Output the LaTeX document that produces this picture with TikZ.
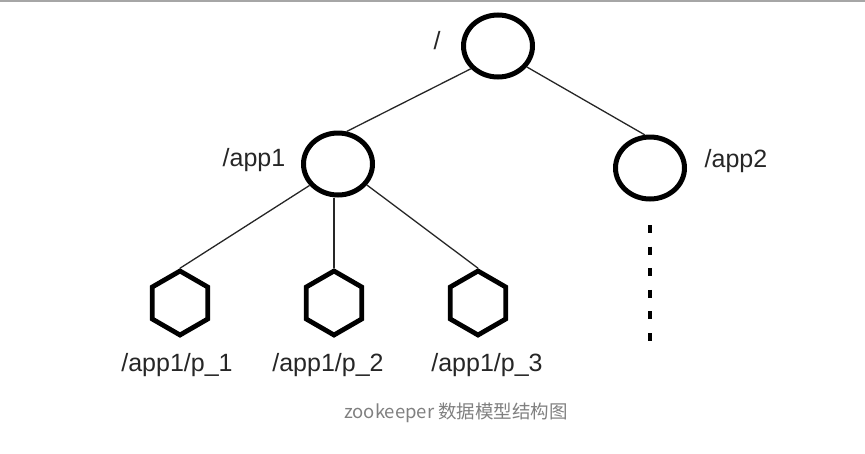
\documentclass[tikz,border=0pt]{standalone}
\usepackage{fontspec}
\setmainfont{Liberation Sans}
\newfontfamily\cjk{Noto Sans CJK SC}
\usepackage{tikz}
\usetikzlibrary{shapes.geometric}

\tikzset{
  znode/.style={draw, ellipse, line width=5pt, minimum width=69pt, minimum height=62pt, inner sep=0pt},
  leaf/.style={draw, regular polygon, regular polygon sides=6, shape border rotate=30, line width=4.8pt, minimum size=64pt, inner sep=0pt},
  path/.style={font=\fontsize{25}{28}\selectfont, text=black!85, inner sep=0pt},
  edge/.style={line width=1.3pt, black!85}
}

\begin{document}
\begin{tikzpicture}[x=1pt,y=-1pt]
\useasboundingbox (0,0) rectangle (865,453);
\draw[black!35, line width=1.5pt] (0,1) -- (865,1);
% znodes
\node[znode] (root) at (498,46) {};
\node[znode] (app1) at (338,164) {};
\node[znode] (app2) at (650,168) {};
\node[leaf] (p1) at (180,303) {};
\node[leaf] (p2) at (334,303) {};
\node[leaf] (p3) at (478,303) {};
% labels
\node[path] (lroot) at (437,41) {/};
\node[path] (lapp1) at (254,160) {/app1};
\node[path] (lapp2) at (736,161) {/app2};
\node[path] (lp1) at (177,365) {/app1/p\_1};
\node[path] (lp2) at (328,365) {/app1/p\_2};
\node[path] (lp3) at (487,365) {/app1/p\_3};
% edges
\draw[edge] (root.220) -- (app1.75);
\draw[edge] (root.-36) -- (app2.99);
\draw[edge] (app1.217) -- (p1.north);
\draw[edge] (p2.north) -- (p2.north |- app1.south);
\draw[edge] (app1.-36) -- (p3.north);
\coordinate (more) at (650,341);
\draw[line width=4.8pt, dash pattern=on 8pt off 13.6pt] (650,225) -- (more);
\node[text=black!50, font=\cjk\fontsize{18.5}{20}\selectfont] (caption) at (456,413) {zookeeper 数据模型结构图};
\end{tikzpicture}
\end{document}
